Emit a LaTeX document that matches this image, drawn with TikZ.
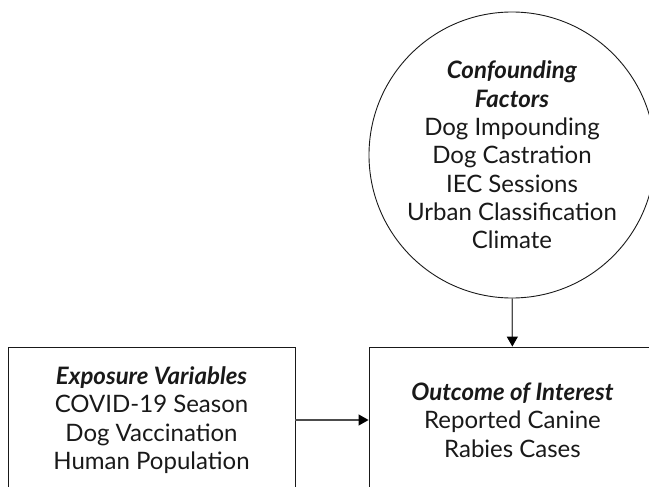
\documentclass[tikz,border=0pt]{standalone}
\usepackage{fontspec}
\setmainfont{Lato}
\usetikzlibrary{arrows.meta,shapes.geometric}

\tikzset{
  box/.style={draw=black!90, line width=0.9pt, rectangle, minimum width=287pt, minimum height=146pt},
  bubble/.style={draw=black!90, line width=0.9pt, circle, minimum size=286pt, inner sep=0pt},
  words/.style={align=center, text=black!90, font=\fontsize{24}{28.3}\selectfont},
  arr/.style={draw=black!70, line width=1.3pt, -{Triangle[length=10pt,width=11pt,color=black]}}
}

\begin{document}
\begin{tikzpicture}[x=1pt,y=-1pt]
		% Page frame (the reference cuts the shapes at its edges)
		\clip (0,0) rectangle (649,487);
		
		% Confounders
		\node[bubble] (conf) at (512,155) {};
		\node[words] (conftxt) at (conf.center) {\textbf{\textit{Confounding}}\\\textbf{\textit{Factors}}\\Dog Impounding\\Dog Castration\\IEC Sessions\\Urban Classification\\Climate};
		
		% Exposure and outcome
		\node[box] (expo) at (151.5,420) {};
		\node[words] at (expo.center) {\textbf{\textit{Exposure Variables}}\\COVID-19 Season\\Dog Vaccination\\Human Population};
		\node[box] (outc) at (512.5,420) {};
		\node[words] at (outc.center) {\textbf{\textit{Outcome of Interest}}\\Reported Canine\\Rabies Cases};
		
		% Arrows
		\draw[arr] (conf) -- (outc);
		\draw[arr] (expo) -- (outc);
	\end{tikzpicture}
\end{document}
